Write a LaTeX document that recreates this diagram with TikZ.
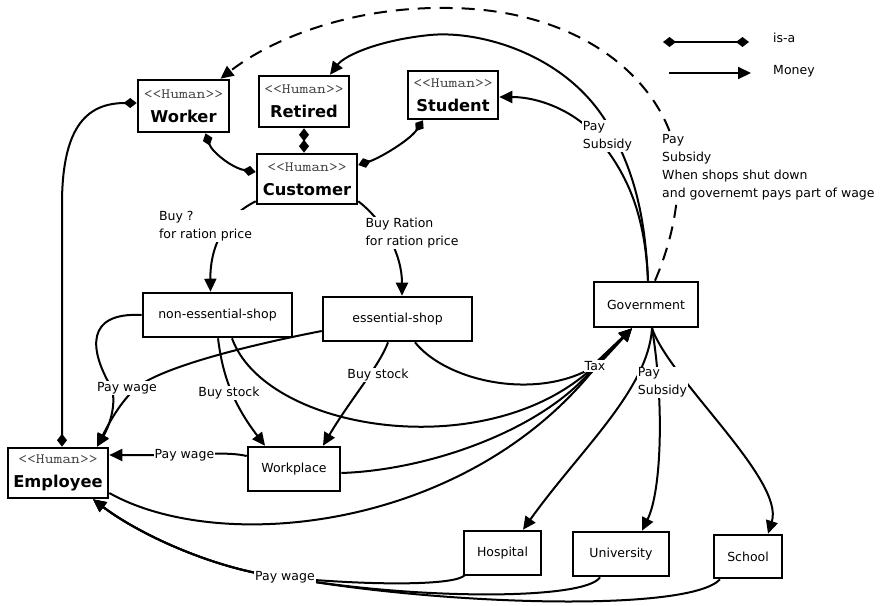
\documentclass[tikz,border=0pt]{standalone}
\usepackage{fontspec}
\usepackage{graphicx}
\setmainfont{DejaVu Sans}
\usetikzlibrary{arrows.meta,calc}
\newcommand{\hmn}{\scalebox{1.27}[1.05]{\color{black!75}\ttfamily\fontsize{13.5}{15}\selectfont <{}<Human>{}>}}
\begin{document}
\begin{tikzpicture}[x=1pt,y=-1pt,
 every node/.style={font=\fontsize{12.5}{15}\selectfont},
 box/.style={draw, line width=2.6pt, fill=white, inner sep=2pt},
 hbox/.style={box, align=center, font=\fontsize{16.3}{24}\selectfont},
 lab/.style={fill=white, inner sep=1pt, align=left, font=\fontsize{12.5}{18}\selectfont},
 wire/.style={line width=2pt},
 money/.style={wire, -{Triangle[length=13pt,width=12pt]}},
 isa/.style={wire, {Diamond[length=13pt,width=10pt]}-{Diamond[length=13pt,width=10pt]}},
 dsh/.style={money, dash pattern=on 13pt off 9pt},
]
\fill[white] (0,0) rectangle (882,605);
\useasboundingbox (0,0) rectangle (882,605);

% nodes
\node[hbox, minimum width=91pt, minimum height=52pt] (worker) at (183.5,106) {\hmn\\\textbf{Worker}};
\node[hbox, minimum width=90pt, minimum height=51pt] (retired) at (304,101.5) {\hmn\\\textbf{Retired}};
\node[hbox, minimum width=90pt, minimum height=48pt] (student) at (453,95) {\hmn\\\textbf{Student}};
\node[hbox, minimum width=100pt, minimum height=50pt] (cust) at (307,179) {\hmn\\\textbf{Customer}};
\node[box, minimum width=149pt, minimum height=44pt] (ness) at (217.5,315) {non-essential-shop};
\node[box, minimum width=149pt, minimum height=44pt] (ess) at (397.5,319) {essential-shop};
\node[box, minimum width=104pt, minimum height=45pt] (gov) at (646,304.5) {Government};
\node[box, minimum width=92pt, minimum height=44pt] (work) at (294,469) {Workplace};
\node[hbox, minimum width=100pt, minimum height=50pt] (emp) at (58,473) {\hmn\\\textbf{Employee}};
\node[box, minimum width=77pt, minimum height=44pt] (hosp) at (502.5,553) {Hospital};
\node[box, minimum width=96pt, minimum height=44pt] (univ) at (621,554) {University};
\node[box, minimum width=68pt, minimum height=43pt] (school) at (748,556.5) {School};

% is-a connectors
\draw[isa] ($(worker.south)+(22,0)$) .. controls (212,152) and (232,168) .. ($(cust.west)+(0,-7)$);
\draw[isa] (retired.south) -- (retired.south |- cust.north);
\draw[isa] ($(student.south)+(-30,0)$) .. controls (410,140) and (380,158) .. ($(cust.east)+(0,-14)$);
\draw[isa] ($(worker.west)+(0,-3)$) .. controls (88,103) and (63,125) .. (62,200) -- ($(emp.north)+(4,0)$);

% buying
\draw[money] ($(cust.south west)+(0,-4)$) .. controls (222,218) and (210,250) .. ($(ness.north)+(-7,0)$);
\draw[money] ($(cust.south east)+(0,-4)$) .. controls (385,222) and (402,255) .. ($(ess.north)+(4.5,0)$);
\draw[money] ($(ness.south)+(0.5,0)$) .. controls (222,370) and (230,400) .. ($(work.north)+(-29,0)$);
\draw[money] ($(ess.south)+(-9.5,0)$) .. controls (380,365) and (350,400) .. ($(work.north)+(29,0)$);

% subsidies
\draw[money] ($(gov.north)+(2,0)$) .. controls (645,210) and (625,170) .. (595,135) .. controls (575,112) and (540,97) .. ($(student.east)+(0,2)$);
\draw[money] ($(gov.north)+(2,0)$) .. controls (645,210) and (632,170) .. (612,132) .. controls (572,55) and (480,30) .. (430,35) .. controls (380,40) and (345,55) .. ($(retired.north)+(26,0)$);
\draw[dsh] ($(gov.north)+(9,0)$) .. controls (668,250) and (678,215) .. (678,175) .. controls (678,100) and (600,10) .. (450,8) .. controls (350,6) and (270,40) .. ($(worker.north)+(37,0)$);
\draw[money] ($(gov.south)+(6,0)$) .. controls (648,390) and (580,450) .. ($(hosp.north)+(20.5,0)$);
\draw[money] ($(gov.south)+(6,0)$) .. controls (664,400) and (662,490) .. ($(univ.north)+(21,0)$);
\draw[money] ($(gov.south)+(6,0)$) .. controls (670,380) and (785,480) .. ($(school.north)+(20,0)$);

% tax
\draw[money] ($(ess.south)+(17.5,0)$) .. controls (445,380) and (530,400) .. (588,370) -- ($(gov.south)+(-14,0)$);
\draw[money] ($(ness.south)+(14.5,0)$) .. controls (265,430) and (480,465) .. (588,372) -- ($(gov.south)+(-14,0)$);
\draw[money] ($(work.east)+(0,4)$) .. controls (430,470) and (540,430) .. (590,372) -- ($(gov.south)+(-14,0)$);
\draw[money] ($(emp.east)+(0,20)$) .. controls (220,555) and (460,530) .. (590,374) -- ($(gov.south)+(-14,0)$);

% wages
\draw[money] (ness.west) .. controls (85,312) and (90,350) .. (110,385) .. controls (118,400) and (110,425) .. ($(emp.north)+(39,0)$);
\draw[money] ($(ess.west)+(0,12)$) .. controls (250,345) and (170,365) .. (140,385) .. controls (122,398) and (108,425) .. ($(emp.north)+(39,0)$);
\draw[money] ($(work.west)+(0,-13)$) .. controls (230,452) and (205,454) .. (185,455) .. controls (150,455) and (125,455) .. ($(emp.east)+(0,-18)$);
\draw[money] ($(hosp.south west)+(2,-1)$) .. controls (455,585) and (380,586) .. (290,578) .. controls (220,572) and (140,535) .. ($(emp.south)+(35,0)$);
\draw[money] ($(univ.south)+(-21,0)$) .. controls (585,600) and (420,600) .. (290,578) .. controls (220,572) and (140,535) .. ($(emp.south)+(35,0)$);
\draw[money] ($(school.south)+(-28,0)$) .. controls (690,612) and (450,606) .. (290,578) .. controls (220,572) and (140,535) .. ($(emp.south)+(35,0)$);

% labels
\node[lab] (lbuy) at (205.5,226) {Buy ?\\for ration price};
\node[lab] (lration) at (412,233) {Buy Ration\\for ration price};
\node[lab] (lsub1) at (607.5,136) {Pay\\Subsidy};
\node[lab, anchor=west] (lsub2) at (661,167) {Pay\\Subsidy\\When shops shut down\\and governemt pays part of wage};
\node[lab] (ltax) at (595,366) {Tax};
\node[lab] (lsub3) at (662.5,382.5) {Pay\\Subsidy};
\node[lab] (lwage1) at (127,388) {Pay wage};
\node[lab] (lwage2) at (184.5,455) {Pay wage};
\node[lab] (lwage3) at (285,577) {Pay wage};
\node[lab] (lstock1) at (229,393) {Buy stock};
\node[lab] (lstock2) at (378,375) {Buy stock};

% legend
\coordinate (l1a) at (663,42);
\coordinate (l1b) at (749,42);
\draw[isa] (l1a) -- (l1b);
\node[anchor=west, inner sep=0pt] (lisa) at (773,38) {is-a};
\coordinate (l2a) at (669,73);
\coordinate (l2b) at (751,73);
\draw[money] (l2a) -- (l2b);
\node[anchor=west, inner sep=0pt] (lmoney) at (773,71) {Money};
\end{tikzpicture}
\end{document}
